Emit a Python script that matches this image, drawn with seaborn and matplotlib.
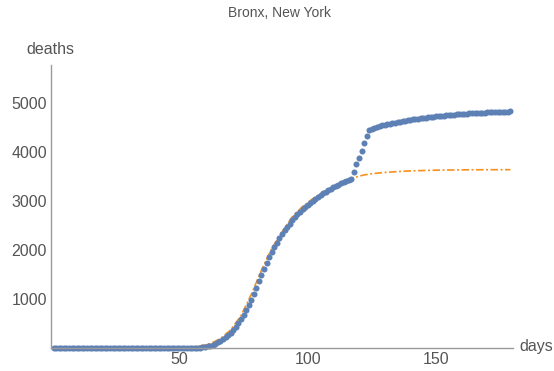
import matplotlib
matplotlib.use("Agg")
import matplotlib.pyplot as plt
import seaborn as sns
from matplotlib.ticker import MultipleLocator

# cumulative deaths, one value per day (days 1..179)
days = list(range(1, 180))
deaths = [0] * 55 + [
    0, 2, 5, 12, 22, 35, 50, 68, 90, 115,                  # 56-65
    140, 175, 215, 260, 310, 370, 435, 510, 590, 680,      # 66-75
    775, 880, 990, 1110, 1230, 1360, 1490, 1610, 1740, 1850,  # 76-85
    1960, 2060, 2150, 2240, 2320, 2400, 2470, 2540, 2610, 2670,  # 86-95
    2730, 2780, 2830, 2880, 2920, 2960, 3000, 3040, 3080, 3120,  # 96-105
    3160, 3195, 3225, 3255, 3285, 3310, 3335, 3360, 3385, 3410,  # 106-115
    3430, 3455, 3600, 3750, 3890, 4030, 4180, 4320, 4460, 4480,  # 116-125
    4500, 4515, 4530, 4545, 4560, 4570, 4580, 4590, 4600, 4610,  # 126-135
    4620, 4630, 4640, 4650, 4660, 4668, 4676, 4684, 4692, 4700,  # 136-145
    4706, 4712, 4718, 4724, 4730, 4736, 4742, 4748, 4753, 4758,  # 146-155
    4763, 4768, 4772, 4776, 4780, 4784, 4787, 4790, 4793, 4796,  # 156-165
    4799, 4802, 4805, 4808, 4810, 4813, 4815, 4818, 4820, 4822,  # 166-175
    4825, 4827, 4830, 4832,                                # 176-179
]

# fitted curve (orange dash-dot)
fit_days = [1, 30, 50, 54, 58, 62, 66, 70, 74, 78, 82, 86, 90, 94, 98,
            102, 106, 110, 114, 118, 122, 126, 130, 134, 138, 142, 146,
            150, 155, 160, 165, 170, 175, 179]
fit_deaths = [0, 0, 5, 15, 40, 90, 190, 370, 660, 1090, 1590, 2030, 2370,
              2680, 2890, 3050, 3180, 3300, 3400, 3480, 3535, 3565, 3585,
              3600, 3612, 3620, 3626, 3631, 3635, 3638, 3640, 3641, 3642,
              3642]

blue = "#5E81B5"
orange = "#F7901E"
grey_txt = "#555555"
grey_ax = "#9a9a9a"

sns.set_style("white")
plt.rcParams["font.family"] = ["Liberation Sans", "DejaVu Sans"]

fig = plt.figure(figsize=(5.54, 3.71), dpi=100)
ax = fig.add_axes([51 / 554, 23 / 371, 462 / 554, 283 / 371])

sns.lineplot(x=fit_days, y=fit_deaths, ax=ax, color=orange, linewidth=1.2,
             linestyle=(0, (4.5, 1.5, 1.2, 1.5)), zorder=1)
sns.scatterplot(x=days, y=deaths, ax=ax, color=blue, s=19, linewidth=0,
                zorder=2, clip_on=False)

ax.set_xlim(0, 180)
ax.set_ylim(0, 5780)
ax.set_xticks([50, 100, 150])
ax.set_yticks([1000, 2000, 3000, 4000, 5000])
ax.xaxis.set_minor_locator(MultipleLocator(10))
ax.yaxis.set_minor_locator(MultipleLocator(200))
ax.tick_params(which="both", direction="in", color=grey_ax, width=0.8,
               labelcolor=grey_txt, labelsize=11.5, pad=3)
ax.tick_params(which="major", length=4.5)
ax.tick_params(which="minor", length=2.5)
for s in ["top", "right"]:
    ax.spines[s].set_visible(False)
for s in ["left", "bottom"]:
    ax.spines[s].set_color(grey_ax)
    ax.spines[s].set_linewidth(1)
ax.set_xlabel("")
ax.set_ylabel("")

fig.text(0.505, 1 - 13 / 371, "Bronx, New York", ha="center", va="center",
         fontsize=10, color=grey_txt)
fig.text(50 / 554, 1 - 50 / 371, "deaths", ha="center", va="center",
         fontsize=11.5, color=grey_txt)
fig.text(519 / 554, 1 - 346 / 371, "days", ha="left", va="center",
         fontsize=11.5, color=grey_txt)

fig.savefig("out.png", dpi=100)
